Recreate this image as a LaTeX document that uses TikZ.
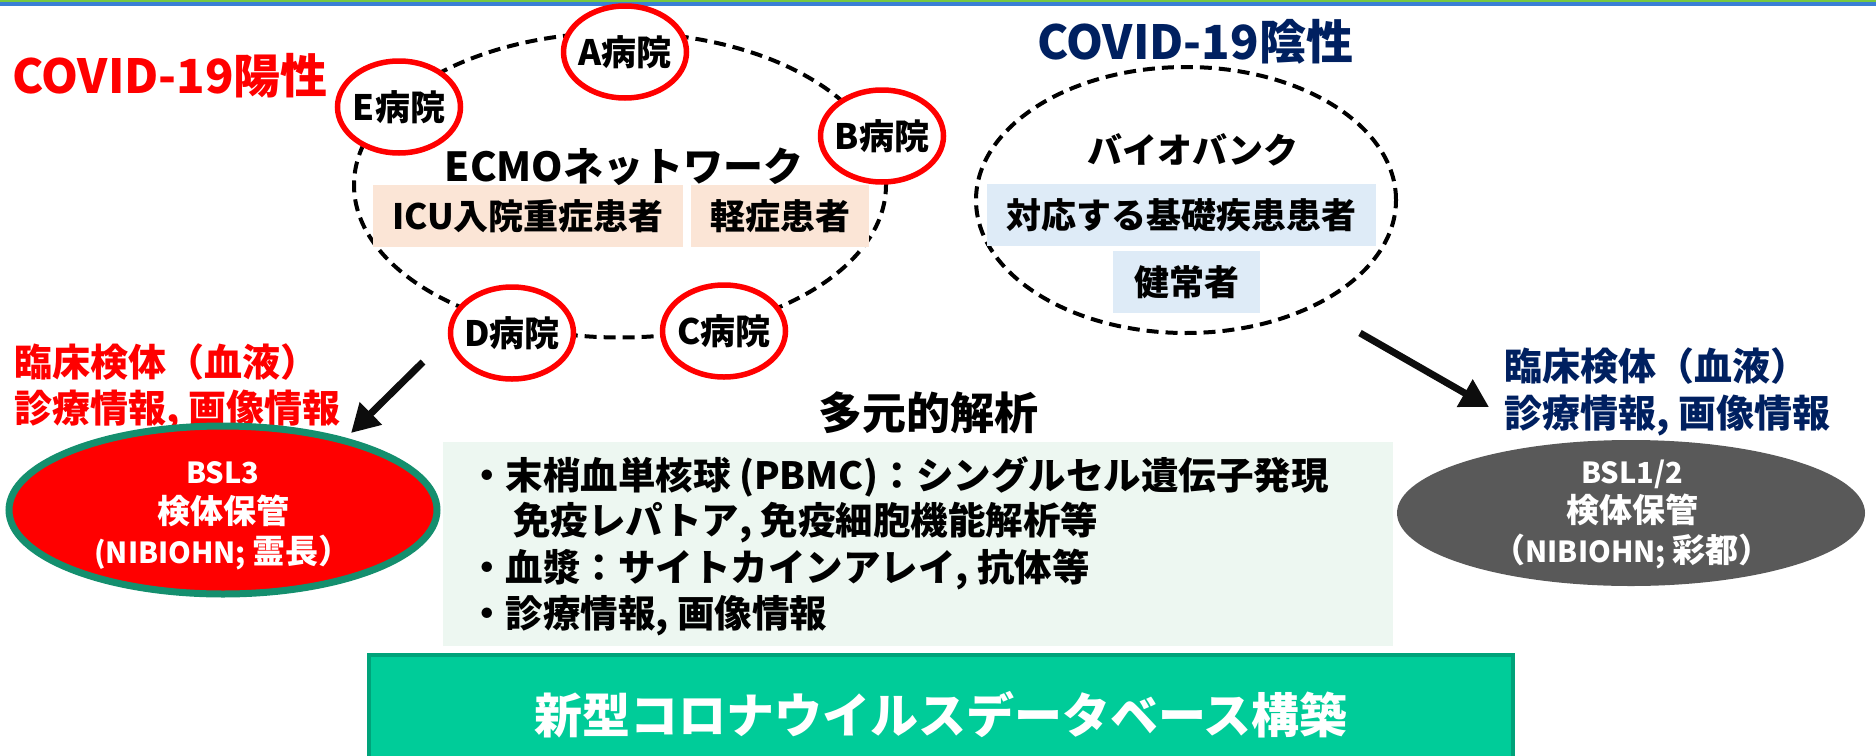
\documentclass[tikz,border=0pt]{standalone}
\usepackage{fontspec}
\setmainfont{Noto Sans CJK JP}
\usetikzlibrary{shapes.geometric,arrows.meta}
\definecolor{cred}{HTML}{FF0000}
\definecolor{cnavy}{HTML}{002060}
\definecolor{cpeach}{HTML}{FBE5D6}
\definecolor{cblue}{HTML}{DEEBF7}
\definecolor{cmint}{HTML}{EDF7F1}
\definecolor{cteal}{HTML}{00CC99}
\definecolor{ctealdark}{HTML}{00A37A}
\definecolor{cring}{HTML}{148F6E}
\definecolor{cgray}{HTML}{595959}
\definecolor{ctopblue}{HTML}{3A7FD5}
\definecolor{ctopgreen}{HTML}{77C93F}
\definecolor{carrow}{HTML}{0D0D0D}
\newcommand\smlat[1]{{\fontsize{29}{36}\selectfont #1}}
\begin{document}
\begin{tikzpicture}[x=1pt,y=-1pt,
  every node/.style={inner sep=0pt, outer sep=0pt},
  hosp/.style={ellipse, draw=cred, line width=5.5pt, fill=white, minimum width=123pt, minimum height=92pt},
  hosptext/.style={font=\bfseries\fontsize{35}{40}\selectfont, text=black, text height=30.8pt, text depth=4.2pt},
  bigtitle/.style={font=\bfseries\fontsize{47}{56}\selectfont, text height=41.4pt, text depth=5.6pt},
  mid/.style={font=\bfseries\fontsize{35}{42}\selectfont, text=black, text height=30.8pt, text depth=4.2pt},
  lab/.style={anchor=west, font=\bfseries\fontsize{38}{46}\selectfont, text height=33.4pt, text depth=4.6pt},
  bul/.style={anchor=west, font=\bfseries\fontsize{37.5}{46}\selectfont, text=black, text height=33pt, text depth=4.5pt},
  bsltext/.style={font=\bfseries\fontsize{33}{40}\selectfont, text=white, text height=29pt, text depth=4pt},
  netline/.style={draw=black, line width=4pt, dash pattern=on 12pt off 7pt},
  bigarrow/.style={draw=carrow, line width=7pt, -{Triangle[length=28pt,width=30pt]}}
]
\useasboundingbox (0,0) rectangle (1876,755);
\clip (0,0) rectangle (1876,755);
% top bar
\fill[ctopgreen] (0,0) rectangle (1876,2);
\fill[ctopblue] (0,2) rectangle (1876,6);

% ECMO network (COVID-19 positive)
\node[bigtitle, text=cred] (pos) at (170,76) {COVID-19陽性};
\node[ellipse, netline, minimum width=532pt, minimum height=305pt] (ecmo) at (620,185) {};
\node[hosp, label={[hosptext]center:A病院}] (hA) at (625,52) {};
\node[hosp, label={[hosptext]center:B病院}] (hB) at (882,136) {};
\node[hosp, label={[hosptext]center:C病院}] (hC) at (724,331) {};
\node[hosp, label={[hosptext]center:D病院}] (hD) at (512,333) {};
\node[hosp, label={[hosptext]center:E病院}] (hE) at (399,107) {};
\node[font=\bfseries\fontsize{40}{48}\selectfont, text height=35.2pt, text depth=4.8pt] (ecmot) at (624,166) {ECMOネットワーク};
\node[mid, fill=cpeach, minimum width=310pt, minimum height=62pt] (icu) at (528,216) {ICU入院重症患者};
\node[mid, fill=cpeach, minimum width=178pt, minimum height=62pt] (kei) at (780,216) {軽症患者};

% Biobank (COVID-19 negative)
\node[bigtitle, text=cnavy] (neg) at (1195,42) {COVID-19陰性};
\node[ellipse, netline, minimum width=420pt, minimum height=266pt] (bb) at (1186,200) {};
\node[mid] (bbt) at (1193,150) {バイオバンク};
\node[mid, fill=cblue, minimum width=389pt, minimum height=62pt] (kiso) at (1181.5,215) {対応する基礎疾患患者};
\node[mid, fill=cblue, minimum width=147pt, minimum height=62pt] (ken) at (1186.5,282) {健常者};

% labels
\node[lab, text=cred] (rl1) at (14,362) {臨床検体（血液）};
\node[lab, text=cred] (rl2) at (14,408) {診療情報, 画像情報};
\node[lab, text=cnavy] (nl1) at (1504,366) {臨床検体（血液）};
\node[lab, text=cnavy] (nl2) at (1504,413) {診療情報, 画像情報};

% arrows
\coordinate (la1) at (423,362);
\coordinate (la2) at (351,433);
\coordinate (ra1) at (1360,333);
\coordinate (ra2) at (1489,407);
\draw[bigarrow] (la1) -- (la2);
\draw[bigarrow] (ra1) -- (ra2);

% storage ellipses
\node[ellipse, fill=cred, draw=cring, line width=7pt, minimum width=428pt, minimum height=168pt] (bsl3) at (223,510) {};
\node[bsltext] (b3a) at (223,471) {\smlat{BSL3}};
\node[bsltext] (b3b) at (223,511) {検体保管};
\node[bsltext] (b3c) at (223,551) {\smlat{(NIBIOHN; }霊長）};
\node[ellipse, fill=cgray, minimum width=468pt, minimum height=146pt] (bsl12) at (1631,513) {};
\node[bsltext] (b12a) at (1632,471) {\smlat{BSL1/2}};
\node[bsltext] (b12b) at (1632,510) {検体保管};
\node[bsltext] (b12c) at (1632,550) {（\smlat{NIBIOHN; }彩都）};

% analysis
\node[font=\bfseries\fontsize{44}{52}\selectfont, text height=38.7pt, text depth=5.3pt] (tag) at (928,413) {多元的解析};
\node[fill=cmint, anchor=north west, minimum width=950pt, minimum height=204pt] (ana) at (443,442) {};
\node[bul] (l1) at (468,475) {・末梢血単核球 (PBMC)：シングルセル遺伝子発現};
\node[bul] (l2) at (513,520) {免疫レパトア, 免疫細胞機能解析等};
\node[bul] (l3) at (468,567) {・血漿：サイトカインアレイ, 抗体等};
\node[bul] (l4) at (468,613) {・診療情報, 画像情報};

% database
\node[fill=cteal, draw=ctealdark, line width=4pt, anchor=north west, minimum width=1144pt, minimum height=120pt, text=white, font=\bfseries\fontsize{48}{56}\selectfont, text height=42.2pt, text depth=5.8pt] (db) at (369,655) {新型コロナウイルスデータベース構築};
\end{tikzpicture}
\end{document}
